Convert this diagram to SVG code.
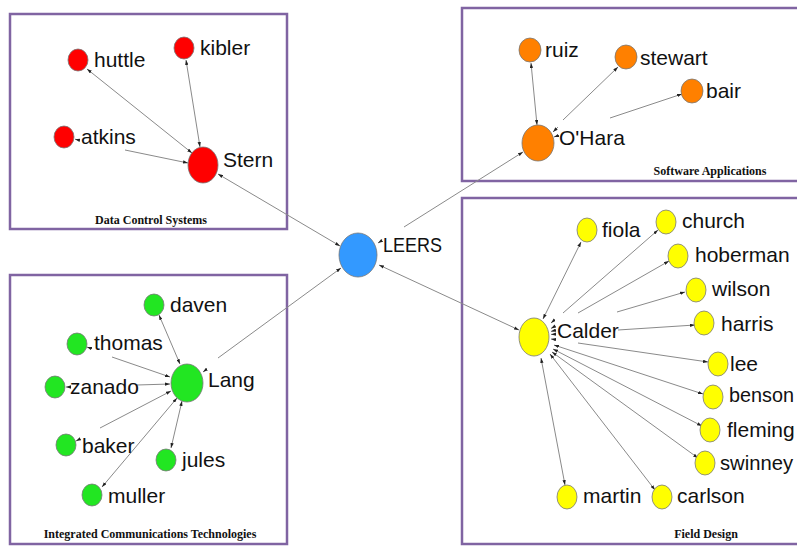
<svg xmlns="http://www.w3.org/2000/svg" width="797" height="546" viewBox="0 0 797 546">
<style>
.box{fill:none;stroke:#8064a2;stroke-width:2.5}
.title{font-family:"Liberation Serif","Times New Roman",serif;font-weight:bold;font-size:12px;fill:#111;text-anchor:middle}
.lbl{font-family:"Liberation Sans",Arial,sans-serif;font-size:21px;fill:#111}
.n{stroke:#777;stroke-width:0.8}
.red{fill:#ff0000}.org{fill:#ff8000}.grn{fill:#22e622}.yel{fill:#ffff00}.blu{fill:#3399ff}
.e{stroke:#8a8a8a;stroke-width:1;fill:none}
.b{marker-start:url(#ah);marker-end:url(#ah)}
.s{marker-start:url(#ah)}
.t{marker-end:url(#ah)}
</style>
<defs>
<marker id="ah" viewBox="0 0 6 4" refX="6" refY="2" markerWidth="5" markerHeight="3.5" orient="auto-start-reverse" markerUnits="userSpaceOnUse">
<path d="M0,0 L6,2 L0,4 z" fill="#222"/>
</marker>
</defs>
<rect width="797" height="546" fill="#fff"/>
<g id="groups">
<rect class="box" x="10" y="14" width="277" height="215"/>
<text class="title" x="151" y="224">Data Control Systems</text>
<rect class="box" x="462" y="8" width="345" height="173"/>
<text class="title" x="710" y="175">Software Applications</text>
<rect class="box" x="10" y="275" width="277" height="269"/>
<text class="title" x="150" y="538">Integrated Communications Technologies</text>
<rect class="box" x="462" y="198" width="345" height="346"/>
<text class="title" x="706" y="538">Field Design</text>
</g>
<g id="connectors">
<line class="e b" x1="87" y1="69" x2="192" y2="153"/>
<line class="e b" x1="186" y1="60" x2="200" y2="147"/>
<line class="e t" x1="125" y1="150" x2="188" y2="163"/>
<line class="e t" x1="80" y1="140.3" x2="75" y2="139.2"/>
<line class="e b" x1="218" y1="174" x2="340" y2="246"/>
<line class="e b" x1="531" y1="63" x2="537" y2="125"/>
<line class="e s" x1="618" y1="67" x2="563" y2="120"/>
<line class="e t" x1="558" y1="127" x2="553" y2="132"/>
<line class="e t" x1="610" y1="118" x2="682" y2="94"/>
<line class="e t" x1="559" y1="135.3" x2="554" y2="137"/>
<line class="e s" x1="523" y1="152" x2="404" y2="227"/>
<line class="e t" x1="382.3" y1="240.3" x2="378" y2="243"/>
<line class="e b" x1="159" y1="315" x2="180" y2="364"/>
<line class="e t" x1="112" y1="357" x2="170" y2="377"/>
<line class="e t" x1="92" y1="348.8" x2="87" y2="347"/>
<line class="e t" x1="137" y1="385" x2="170" y2="384"/>
<line class="e t" x1="71" y1="387" x2="66" y2="387"/>
<line class="e t" x1="100" y1="428" x2="171" y2="391"/>
<line class="e t" x1="80.4" y1="438.7" x2="76" y2="441"/>
<line class="e b" x1="102" y1="487" x2="177" y2="398"/>
<line class="e b" x1="171" y1="448" x2="182" y2="401"/>
<line class="e t" x1="218" y1="358" x2="341" y2="268"/>
<line class="e t" x1="207" y1="369" x2="203" y2="372"/>
<line class="e b" x1="581" y1="242" x2="543" y2="319"/>
<line class="e s" x1="658" y1="230" x2="563" y2="313"/>
<line class="e t" x1="554.8" y1="319.7" x2="551" y2="323"/>
<line class="e s" x1="669" y1="261" x2="578" y2="313"/>
<line class="e t" x1="555.3" y1="326" x2="551" y2="328.4"/>
<line class="e s" x1="685" y1="292" x2="617" y2="312"/>
<line class="e t" x1="556" y1="330" x2="551" y2="331.4"/>
<line class="e s" x1="695" y1="325" x2="618" y2="330"/>
<line class="e t" x1="556" y1="334.1" x2="551" y2="334.4"/>
<line class="e s" x1="708" y1="362" x2="578" y2="343"/>
<line class="e t" x1="556" y1="339.7" x2="551" y2="339"/>
<line class="e b" x1="703" y1="394" x2="554" y2="345"/>
<line class="e b" x1="702" y1="426" x2="553" y2="349"/>
<line class="e b" x1="698" y1="458" x2="552" y2="352"/>
<line class="e b" x1="655" y1="490" x2="550" y2="354"/>
<line class="e b" x1="565" y1="485" x2="541" y2="358"/>
<line class="e b" x1="379" y1="265" x2="519" y2="330"/>
</g>
<g id="node-huttle"><ellipse class="n red" cx="78" cy="60" rx="10" ry="11"/><text class="lbl" x="94" y="67">huttle</text></g>
<g id="node-kibler"><ellipse class="n red" cx="184" cy="48" rx="10" ry="11"/><text class="lbl" x="200" y="55">kibler</text></g>
<g id="node-atkins"><ellipse class="n red" cx="64" cy="137" rx="10" ry="11"/><text class="lbl" x="81" y="144">atkins</text></g>
<g id="node-stern"><ellipse class="n red" cx="203" cy="165" rx="15" ry="18"/><text class="lbl" x="223" y="167">Stern</text></g>
<g id="node-ruiz"><ellipse class="n org" cx="530" cy="50" rx="11" ry="12"/><text class="lbl" x="545" y="57">ruiz</text></g>
<g id="node-stewart"><ellipse class="n org" cx="626" cy="57" rx="11" ry="12"/><text class="lbl" x="640" y="65">stewart</text></g>
<g id="node-bair"><ellipse class="n org" cx="692" cy="91" rx="11" ry="12"/><text class="lbl" x="706" y="98">bair</text></g>
<g id="node-ohara"><ellipse class="n org" cx="538" cy="143" rx="16" ry="18"/><text class="lbl" x="559" y="145">O'Hara</text></g>
<g id="node-leers"><ellipse class="n blu" cx="358" cy="255" rx="19" ry="22"/><text class="lbl" x="383" y="252" textLength="59" lengthAdjust="spacingAndGlyphs">LEERS</text></g>
<g id="node-daven"><ellipse class="n grn" cx="154" cy="305" rx="10" ry="11"/><text class="lbl" x="170" y="312">daven</text></g>
<g id="node-thomas"><ellipse class="n grn" cx="77" cy="344" rx="10" ry="11"/><text class="lbl" x="94" y="350">thomas</text></g>
<g id="node-zanado"><ellipse class="n grn" cx="55" cy="387" rx="10" ry="11"/><text class="lbl" x="70" y="394">zanado</text></g>
<g id="node-lang"><ellipse class="n grn" cx="187" cy="383" rx="16" ry="19"/><text class="lbl" x="208" y="387">Lang</text></g>
<g id="node-baker"><ellipse class="n grn" cx="66" cy="445" rx="10" ry="11"/><text class="lbl" x="82" y="453">baker</text></g>
<g id="node-jules"><ellipse class="n grn" cx="166" cy="460" rx="10" ry="11"/><text class="lbl" x="182" y="467">jules</text></g>
<g id="node-muller"><ellipse class="n grn" cx="92" cy="495" rx="10" ry="11"/><text class="lbl" x="108" y="503">muller</text></g>
<g id="node-calder"><ellipse class="n yel" cx="534" cy="337" rx="15" ry="19"/><text class="lbl" x="557" y="338">Calder</text></g>
<g id="node-fiola"><ellipse class="n yel" cx="587" cy="230" rx="10" ry="12"/><text class="lbl" x="602" y="237">fiola</text></g>
<g id="node-church"><ellipse class="n yel" cx="666" cy="222" rx="10" ry="12"/><text class="lbl" x="682" y="228">church</text></g>
<g id="node-hoberman"><ellipse class="n yel" cx="678" cy="256" rx="10" ry="12"/><text class="lbl" x="695" y="262">hoberman</text></g>
<g id="node-wilson"><ellipse class="n yel" cx="696" cy="290" rx="10" ry="12"/><text class="lbl" x="712" y="296">wilson</text></g>
<g id="node-harris"><ellipse class="n yel" cx="704" cy="323" rx="10" ry="12"/><text class="lbl" x="721" y="331">harris</text></g>
<g id="node-lee"><ellipse class="n yel" cx="718" cy="364" rx="10" ry="12"/><text class="lbl" x="730" y="371">lee</text></g>
<g id="node-benson"><ellipse class="n yel" cx="713" cy="397" rx="10" ry="12"/><text class="lbl" x="729" y="402" textLength="65" lengthAdjust="spacingAndGlyphs">benson</text></g>
<g id="node-fleming"><ellipse class="n yel" cx="710" cy="430" rx="10" ry="12"/><text class="lbl" x="727" y="437">fleming</text></g>
<g id="node-swinney"><ellipse class="n yel" cx="705" cy="463" rx="10" ry="12"/><text class="lbl" x="720" y="470" textLength="73" lengthAdjust="spacingAndGlyphs">swinney</text></g>
<g id="node-martin"><ellipse class="n yel" cx="567" cy="497" rx="10" ry="12"/><text class="lbl" x="583" y="503">martin</text></g>
<g id="node-carlson"><ellipse class="n yel" cx="662" cy="497" rx="10" ry="12"/><text class="lbl" x="677" y="503">carlson</text></g>
</svg>
